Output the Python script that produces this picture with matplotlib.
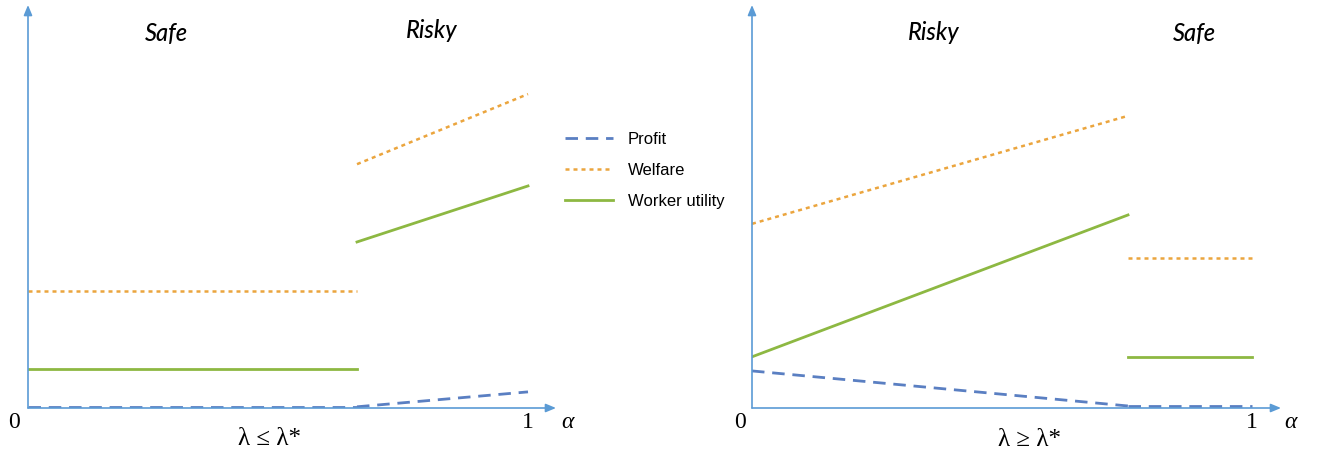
import matplotlib
matplotlib.use("Agg")
import matplotlib.pyplot as plt

# ---- data (alpha on x, payoff level on y in arbitrary units) ----
# Left panel: lambda <= lambda*, safe below threshold, risky above
left_cut = 0.658
left_profit_safe = [0.3, 0.3]
left_profit_risky = [0.3, 4.0]
left_welfare_safe = [29.0, 29.0]
left_welfare_risky = [60.5, 77.9]
left_worker_safe = [9.7, 9.7]
left_worker_risky = [41.2, 55.1]

# Right panel: lambda >= lambda*, risky below threshold, safe above
right_cut = 0.752
right_profit_risky = [9.2, 0.5]
right_profit_safe = [0.5, 0.5]
right_welfare_risky = [45.7, 72.5]
right_welfare_safe = [37.2, 37.2]
right_worker_risky = [12.7, 47.9]
right_worker_safe = [12.7, 12.7]

series_labels = ["Profit", "Welfare", "Worker utility"]

C_PROFIT = "#5a7fc2"
C_WELFARE = "#eba53e"
C_WORKER = "#8db842"
C_AXIS = "#5b9bd5"

W, H = 1325, 459
fig = plt.figure(figsize=(W / 100, H / 100), dpi=100)


def px_axes(x0, x1, y_bottom, y_top):
    return fig.add_axes([x0 / W, 1 - y_bottom / H, (x1 - x0) / W, (y_bottom - y_top) / H])


profit_kw = dict(color=C_PROFIT, lw=2.0, dashes=(4.5, 2.8))
welfare_kw = dict(color=C_WELFARE, lw=1.8, dashes=(1.6, 1.6))
worker_kw = dict(color=C_WORKER, lw=2.0)


def setup(ax, xmax):
    ax.set_xlim(0, xmax)
    ax.set_ylim(0, 100)
    ax.axis("off")
    ax.annotate("", xy=(xmax, 0), xytext=(0, 0),
                arrowprops=dict(arrowstyle="-|>,head_length=0.6,head_width=0.25",
                                color=C_AXIS, lw=1.2, shrinkA=0, shrinkB=0),
                annotation_clip=False)
    ax.annotate("", xy=(0, 100), xytext=(0, 0),
                arrowprops=dict(arrowstyle="-|>,head_length=0.6,head_width=0.25",
                                color=C_AXIS, lw=1.2, shrinkA=0, shrinkB=0),
                annotation_clip=False)


# Left panel
axL = px_axes(28, 556, 408, 5)
setup(axL, 1.056)
hp, = axL.plot([0, left_cut], left_profit_safe, **profit_kw)
axL.plot([left_cut, 1.0], left_profit_risky, **profit_kw)
hw, = axL.plot([0, left_cut], left_welfare_safe, **welfare_kw)
axL.plot([left_cut, 1.0], left_welfare_risky, **welfare_kw)
hu, = axL.plot([0, left_cut], left_worker_safe, **worker_kw)
axL.plot([left_cut, 1.0], left_worker_risky, **worker_kw)

# Right panel
axR = px_axes(752, 1281, 408, 5)
setup(axR, 1.058)
axR.plot([0, right_cut], right_profit_risky, **profit_kw)
axR.plot([right_cut, 1.0], right_profit_safe, **profit_kw)
axR.plot([0, right_cut], right_welfare_risky, **welfare_kw)
axR.plot([right_cut, 1.0], right_welfare_safe, **welfare_kw)
axR.plot([0, right_cut], right_worker_risky, **worker_kw)
axR.plot([right_cut, 1.0], right_worker_safe, **worker_kw)

# Legend between the panels
fig.legend([hp, hw, hu], series_labels, loc="upper left",
           bbox_to_anchor=(550 / W, 1 - 117 / H), frameon=False,
           prop=dict(family="Liberation Sans", size=12),
           handlelength=2.9, handletextpad=0.85, labelspacing=0.95)


def ftext(x, y, s, **kw):
    fig.text(x / W, 1 - y / H, s, ha="center", va="center", **kw)


region_kw = dict(family="Lato", style="italic", weight="medium", size=17)
ftext(166, 33, "Safe", **region_kw)
ftext(432, 30, "Risky", **region_kw)
ftext(934, 32, "Risky", **region_kw)
ftext(1194, 33, "Safe", **region_kw)

num_kw = dict(family="Liberation Serif", size=17)
ftext(14, 423, "0", **num_kw)
ftext(528, 423, "1", **num_kw)
ftext(567, 422, "α", family="Liberation Serif", style="italic", size=17)
ftext(269, 439, "λ ≤ λ*", family="Liberation Serif", size=18)

ftext(740, 423, "0", **num_kw)
ftext(1252, 423, "1", **num_kw)
ftext(1290, 422, "α", family="Liberation Serif", style="italic", size=17)
ftext(1030, 440, "λ ≥ λ*", family="Liberation Serif", size=18)

fig.savefig("out.png", dpi=100, facecolor="white")
